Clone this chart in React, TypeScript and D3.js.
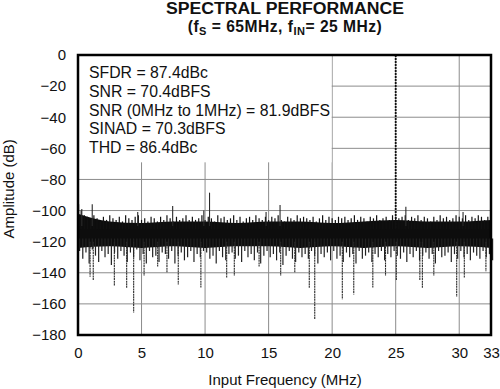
import React, { useEffect, useRef } from 'react';
import * as d3 from 'd3';

// 0.25 MHz bins from 0 to 32.5 MHz
const binStep = 0.25;
const peakDb = [
  -98, -100, -103, -104, -106, -103, -105, -107, -104, -106, -103, -105,
  -106, -104, -107, -103, -105, -106, -104, -103, -106, -105, -107, -104,
  -105, -107, -104, -106, -103, -105, -107, -104, -106, -105, -103, -106,
  -104, -106, -105, -103, -106, -104, -105, -107, -103, -105, -104, -106,
  -105, -103, -106, -104, -107, -105, -104, -106, -103, -105, -106, -104,
  -106, -104, -105, -103, -106, -107, -104, -105, -106, -103, -105, -104,
  -105, -106, -104, -107, -105, -103, -106, -104, -105, -106, -104, -105,
  -104, -106, -105, -103, -106, -104, -105, -107, -104, -105, -103, -106,
  -105, -104, -106, -103, -104, -105, -104, -103, -106, -104, -105, -103,
  -106, -104, -105, -107, -104, -106, -103, -105, -104, -106, -105, -103,
  -104, -105, -103, -106, -104, -105, -103, -104, -106, -104, -103,
];
const floorDb = [
  -126, -131, -127, -134, -125, -129, -133, -126, -130, -128, -135, -127,
  -131, -126, -129, -133, -127, -130, -125, -132, -128, -134, -126, -130,
  -129, -133, -127, -128, -131, -126, -134, -129, -127, -132, -130, -126,
  -133, -128, -130, -126, -127, -131, -129, -134, -126, -130, -132, -128,
  -127, -131, -129, -133, -126, -130, -128, -132, -127, -134, -129, -126,
  -130, -128, -132, -127, -135, -129, -126, -131, -133, -127, -130, -128,
  -131, -126, -129, -134, -128, -130, -127, -132, -126, -131, -129, -133,
  -127, -130, -128, -134, -126, -131, -129, -127, -133, -128, -130, -126,
  -132, -128, -130, -126, -129, -131, -127, -133, -128, -130, -126, -132,
  -129, -127, -131, -128, -134, -126, -130, -129, -127, -133, -128, -131,
  -126, -130, -128, -132, -127, -129, -131, -126, -130, -128, -132,
];

// dense noise core, 2.5 MHz steps
const coreFreq = [0, 2.5, 5, 7.5, 10, 12.5, 15, 17.5, 20, 22.5, 25, 27.5, 30, 32.5];
const coreTop = [-102, -107, -108, -107, -107, -108, -107, -107, -108, -107, -106, -107, -107, -106];
const coreBottom = [-124, -123, -124, -123, -124, -123, -123, -124, -123, -124, -123, -124, -123, -124];

const spikesUp: [number, number][] = [
  [0.05, -96], [0.3, -99], [1.12, -96], [4.7, -101], [7.45, -97], [9.9, -100],
  [10.35, -88.5], [14.8, -101], [15.9, -96.5], [25.8, -97.5], [30.3, -101],
];
const spikesDown: [number, number][] = [
  [0.95, -142.5], [1.2, -145], [2.86, -148.5], [3.83, -150], [4.38, -165.6], [5.2, -142],
  [6.27, -136], [7.0, -140], [7.89, -147.5], [9.67, -149.5], [11.7, -143], [12.3, -142],
  [14.25, -136], [15.95, -142], [17.06, -140], [18.2, -150], [18.63, -170], [20.8, -157],
  [21.7, -154], [23.2, -149.5], [24.2, -142], [25.05, -145], [26.9, -145], [27.1, -150],
  [28.0, -142], [29.8, -155.4], [30.4, -143], [32.1, -139],
];
const fundamental: [number, number] = [25, 0];

const xTicks = [0, 5, 10, 15, 20, 25, 30, 32.5];
const yTicks = [0, -20, -40, -60, -80, -100, -120, -140, -160, -180];
const statLines = [
  'SFDR = 87.4dBc',
  'SNR = 70.4dBFS',
  'SNR (0MHz to 1MHz) = 81.9dBFS',
  'SINAD = 70.3dBFS',
  'THD = 86.4dBc',
];

const W = 500;
const H = 389;
const FONT = '"Liberation Sans", Arial, Helvetica, sans-serif';

export default function App() {
  const svgRef = useRef<SVGSVGElement>(null);

  useEffect(() => {
    if (!svgRef.current) return;
    const svg = d3.select(svgRef.current);
    svg.selectAll('*').remove();

    const margin = { top: 55, right: 9, bottom: 54, left: 78 };
    const x = d3.scaleLinear().domain([0, 32.5]).range([margin.left, W - margin.right]);
    const y = d3.scaleLinear().domain([-180, 0]).range([H - margin.bottom, margin.top]);

    // grid
    const grid = svg.append('g').attr('stroke', '#8c8c8c').attr('stroke-width', 1);
    xTicks.slice(1, -1).forEach(t => {
      grid.append('line').attr('x1', x(t)).attr('x2', x(t)).attr('y1', y(0)).attr('y2', y(-180));
    });
    yTicks.slice(1, -1).forEach(t => {
      grid.append('line').attr('x1', x(0)).attr('x2', x(32.5)).attr('y1', y(t)).attr('y2', y(t));
    });

    // white box behind stats
    svg.append('rect')
      .attr('x', x(0)).attr('y', y(0))
      .attr('width', x(20) - x(0) - 0.5).attr('height', y(-69) - y(0))
      .attr('fill', '#fff');

    // noise core
    const area = d3.area<number>()
      .x((_, i) => x(coreFreq[i]))
      .y0((_, i) => y(coreBottom[i]))
      .y1(d => y(d))
      .curve(d3.curveMonotoneX);
    svg.append('path').datum(coreTop).attr('fill', '#0d0d0d').attr('d', area);

    // per-bin fringe lines
    const bins = svg.append('g').attr('stroke', '#111').attr('stroke-width', 1.2);
    peakDb.forEach((p, i) => {
      const f = i * binStep;
      bins.append('line').attr('x1', x(f)).attr('x2', x(f)).attr('y1', y(p)).attr('y2', y(-112));
      bins.append('line').attr('x1', x(f) + 1.6).attr('x2', x(f) + 1.6)
        .attr('y1', y(-118)).attr('y2', y(floorDb[i]))
        .attr('stroke', '#222');
    });

    const spikes = svg.append('g').attr('stroke', '#2a2a2a').attr('stroke-width', 1.1);
    spikesUp.forEach(([f, v]) => {
      spikes.append('line').attr('x1', x(f)).attr('x2', x(f)).attr('y1', y(v)).attr('y2', y(-110));
    });
    spikesDown.forEach(([f, v]) => {
      spikes.append('line').attr('x1', x(f)).attr('x2', x(f)).attr('y1', y(-120)).attr('y2', y(v))
        .attr('stroke-dasharray', '2,0.6');
    });

    // fundamental tone
    svg.append('line')
      .attr('x1', x(fundamental[0])).attr('x2', x(fundamental[0]))
      .attr('y1', y(fundamental[1])).attr('y2', y(-112))
      .attr('stroke', '#111').attr('stroke-width', 1.8)
      .attr('stroke-dasharray', '2,1');

    // frame
    svg.append('rect')
      .attr('x', x(0)).attr('y', y(0))
      .attr('width', x(32.5) - x(0)).attr('height', y(-180) - y(0))
      .attr('fill', 'none').attr('stroke', '#000').attr('stroke-width', 2.5);

    // axes
    const xAxis = svg.append('g')
      .attr('transform', `translate(0,${y(-180)})`)
      .call(d3.axisBottom(x).tickValues(xTicks).tickSize(0).tickPadding(12)
        .tickFormat(d => (d === 32.5 ? '33' : String(d))));
    xAxis.select('.domain').remove();
    xAxis.selectAll('text').attr('font-family', FONT).attr('font-size', '15px').attr('fill', '#111');

    const yAxis = svg.append('g')
      .attr('transform', `translate(${x(0)},0)`)
      .call(d3.axisLeft(y).tickValues(yTicks).tickSize(0).tickPadding(12)
        .tickFormat(d => (d === 0 ? '0' : `\u2212${Math.abs(d as number)}`)));
    yAxis.select('.domain').remove();
    yAxis.selectAll('text').attr('font-family', FONT).attr('font-size', '15px').attr('fill', '#111');

    // stats text
    statLines.forEach((s, i) => {
      svg.append('text')
        .attr('x', 89).attr('y', 78 + i * 18.8)
        .attr('font-family', FONT).attr('font-size', '15.8px').attr('fill', '#111')
        .text(s);
    });

    // titles
    svg.append('text')
      .attr('x', 285).attr('y', 14).attr('text-anchor', 'middle')
      .attr('font-family', FONT).attr('font-size', '15.6px').attr('font-weight', 'bold').attr('fill', '#111')
      .attr('textLength', 238).attr('lengthAdjust', 'spacingAndGlyphs')
      .text('SPECTRAL PERFORMANCE');
    const sub = svg.append('text')
      .attr('x', 285).attr('y', 31.5).attr('text-anchor', 'middle')
      .attr('font-family', FONT).attr('font-size', '15.6px').attr('font-weight', 'bold').attr('fill', '#111')
      .attr('letter-spacing', '0.5px');
    sub.append('tspan').text('(f');
    sub.append('tspan').attr('font-size', '11px').attr('dy', 3.5).text('S');
    sub.append('tspan').attr('dy', -3.5).text(' = 65MHz, f');
    sub.append('tspan').attr('font-size', '11px').attr('dy', 3.5).text('IN');
    sub.append('tspan').attr('dy', -3.5).text('= 25 MHz)');

    svg.append('text')
      .attr('x', 285).attr('y', 385).attr('text-anchor', 'middle')
      .attr('font-family', FONT).attr('font-size', '15px').attr('fill', '#111')
      .text('Input Frequency (MHz)');
    svg.append('text')
      .attr('transform', `translate(14,${y(-86)}) rotate(-90)`)
      .attr('text-anchor', 'middle')
      .attr('font-family', FONT).attr('font-size', '15px').attr('fill', '#111')
      .text('Amplitude (dB)');
  }, []);

  return (
    <div style={{ position: 'absolute', left: 0, top: 0, width: W, height: H, background: '#fff' }}>
      <svg ref={svgRef} width={W} height={H} />
    </div>
  );
}
